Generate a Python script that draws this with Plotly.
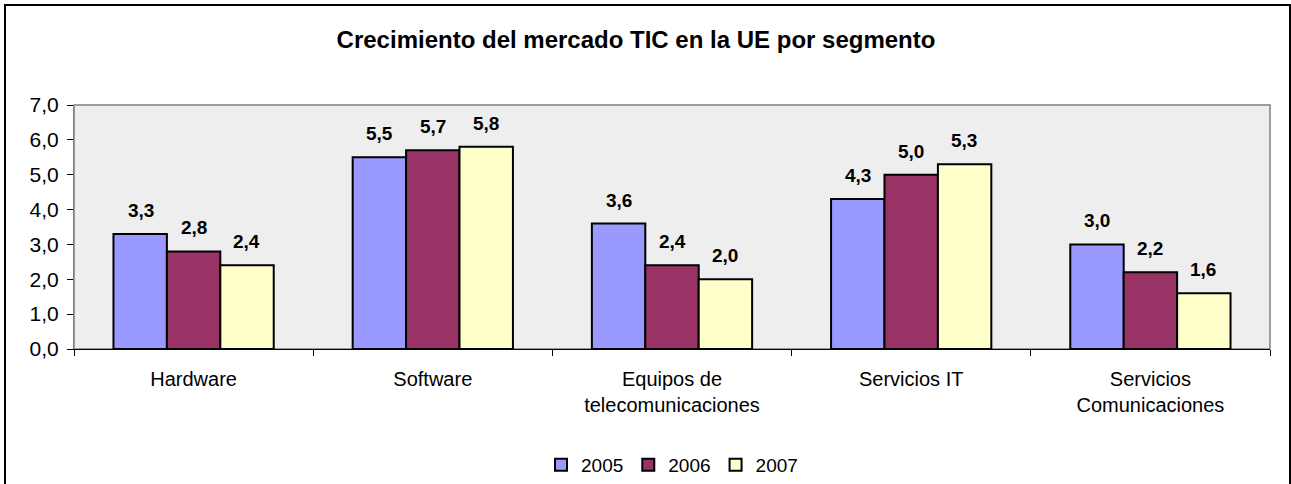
import plotly.graph_objects as go

categories = ["Hardware", "Software", "Equipos de<br>telecomunicaciones", "Servicios IT", "Servicios<br>Comunicaciones"]
years = ["2005", "2006", "2007"]
v2005 = [3.3, 5.5, 3.6, 4.3, 3.0]
v2006 = [2.8, 5.7, 2.4, 5.0, 2.2]
v2007 = [2.4, 5.8, 2.0, 5.3, 1.6]
series = [v2005, v2006, v2007]
colors = ["#9999FF", "#993366", "#FFFFCC"]
title = "Crecimiento del mercado TIC en la UE por segmento"

W, H = 1291, 484
L, R, T, B = 74, 21, 105, 135
pw, ph = W - L - R, H - T - B
FONT = "Liberation Sans, Arial, sans-serif"

fig = go.Figure()
for name, vals, col in zip(years, series, colors):
    fig.add_trace(go.Bar(
        x=categories, y=vals, name=name,
        marker=dict(color=col, line=dict(color="black", width=2)),
    ))

# data labels above bars
bar_w = 53
for i, vals in enumerate(series):
    for c, v in zip(categories, vals):
        fig.add_annotation(
            x=c, y=v, text="<b>" + f"{v:.1f}".replace(".", ",") + "</b>",
            showarrow=False, xshift=(i - 1) * bar_w, yshift=11,
            yanchor="bottom", xanchor="center",
            font=dict(family=FONT, size=19, color="black"),
        )

def py(ypix):
    return (H - B - ypix) / ph

def px(xpix):
    return (xpix - L) / pw

fig.update_layout(
    width=W, height=H,
    margin=dict(l=L, r=R, t=T, b=B, pad=0, autoexpand=False),
    paper_bgcolor="white", plot_bgcolor="#EEEEEE",
    separators=",.",
    barmode="group", bargap=0.33, bargroupgap=0,
    font=dict(family=FONT, size=19, color="black"),
    title=dict(text="<b>" + title + "</b>", x=636 / W, xanchor="center",
               xref="container", y=1 - 40 / H, yanchor="middle",
               font=dict(size=24)),
    legend=dict(orientation="h", x=0.5, xanchor="center",
                y=py(465), yanchor="middle", font=dict(size=19),
                itemwidth=30, traceorder="normal", bgcolor="rgba(0,0,0,0)"),
    xaxis=dict(showline=True, linecolor="black", linewidth=1,
               ticks="outside", ticklen=6, tickcolor="black",
               tickson="boundaries", tickfont=dict(size=20),
               ticklabelstandoff=12,
               showgrid=False, zeroline=False),
    yaxis=dict(range=[0, 7], dtick=1, tickformat=".1f",
               showline=True, linecolor="#808080", linewidth=1,
               ticks="outside", ticklen=6, tickcolor="black",
               tickfont=dict(size=21), ticklabelstandoff=4,
               showgrid=False, zeroline=False),
    shapes=[
        dict(type="rect", xref="paper", yref="paper", x0=0, x1=1, y0=0, y1=1,
             line=dict(color="#808080", width=1.5), layer="below"),
        dict(type="rect", xref="paper", yref="paper",
             x0=px(5), x1=px(1290), y0=py(H + 5), y1=py(5),
             line=dict(color="black", width=2), fillcolor="rgba(0,0,0,0)"),
    ],
)

fig.write_html("out.html", config={"displayModeBar": False},
               post_script="document.body.style.margin='0';")
